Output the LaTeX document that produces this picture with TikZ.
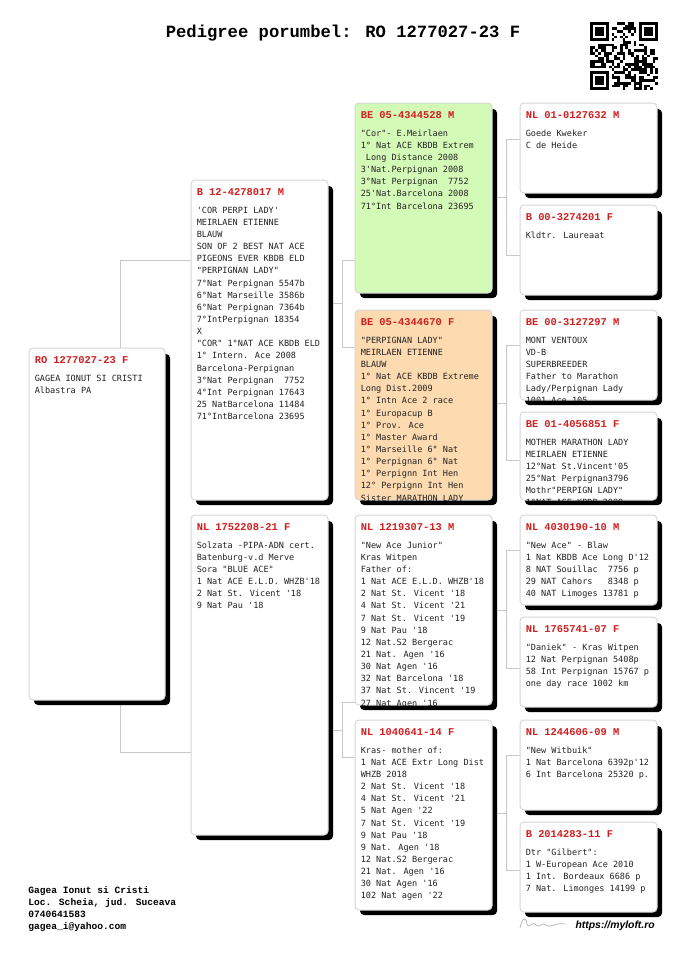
\documentclass[tikz,border=0pt]{standalone}
\usepackage{fontspec}
\newfontfamily\courf{Liberation Mono}
\newfontfamily\bodyf{DejaVu Sans Mono}
\newfontfamily\urlf{Liberation Sans}
\usetikzlibrary{calc}
\pgfdeclarelayer{background}
\pgfsetlayers{background,main}
\definecolor{hdrred}{RGB}{210,30,30}
\definecolor{boxline}{RGB}{215,215,215}
\definecolor{conn}{RGB}{200,200,200}
\definecolor{greenfill}{RGB}{212,250,184}
\definecolor{orangefill}{RGB}{253,218,176}
\definecolor{bodytext}{RGB}{35,35,35}
\tikzset{
 pedbox/.style={draw=boxline, line width=0.75pt, rounded corners=3pt, inner sep=0pt, outer sep=0pt, anchor=north west},
 shadowbox/.style={fill=black, rounded corners=3pt},
 hdrtext/.style={font=\courf\bfseries\fontsize{7.8pt}{9pt}\selectfont, text=hdrred, anchor=base west, inner sep=0pt},
 bodytxt/.style={font=\bodyf\fontsize{6.4pt}{9.1pt}\selectfont, text=bodytext, anchor=north west, inner sep=0pt, align=left},
 connector/.style={draw=conn, line width=0.75pt},
 titletext/.style={font=\courf\bfseries\fontsize{12.9pt}{14pt}\selectfont, anchor=base, inner sep=0pt},
 foottext/.style={font=\courf\bfseries\fontsize{7.2pt}{9pt}\selectfont, anchor=north west, inner sep=0pt, align=left},
 urltext/.style={font=\urlf\bfseries\itshape\fontsize{7.8pt}{9pt}\selectfont, anchor=base east, inner sep=0pt},
}
% #1 name, #2 x, #3 y, #4 w, #5 h, #6 fill, #7 header, #8 body
\newcommand\pedbox[8]{%
  \fill[shadowbox] (#2+5,#3+6) rectangle (#2+#4+5,#3+#5+5);
  \node[pedbox, fill=#6, minimum width=#4*0.75pt, minimum height=#5*0.75pt] (#1) at (#2,#3) {};
  \begin{scope}
    \clip (#1.north west) rectangle (#1.south east);
    \node[hdrtext] (#1-h) at ($(#1.north west)+(5.5,15)$) {#7};
    \node[bodytxt] (#1-b) at ($(#1.north west)+(5.5,26)$) {\rule{0pt}{5.25pt}#8};
  \end{scope}
}
\begin{document}
\begin{tikzpicture}[x=0.75pt,y=-0.75pt]
\begin{pgfonlayer}{background}
\fill[white] (0,0) rectangle (685,968);
\end{pgfonlayer}
\useasboundingbox (0,0) rectangle (685,968);

\node[titletext] (title) at (343,37) {Pedigree porumbel: RO 1277027-23 F};

% QR code
\begin{scope}[shift={(590,22)}]
  \pgfmathsetseed{4711}
  \foreach \i in {0,...,24}{
    \foreach \j in {0,...,24}{
      \pgfmathrandominteger{\qrr}{0}{1}
      \pgfmathtruncatemacro\qok{((\i<8 && \j<8) || (\i>16 && \j<8) || (\i<8 && \j>16)) ? 0 : 1}
      \ifnum\qok=1 \ifnum\qrr=1 \fill[black] (\i*2.72,\j*2.72) rectangle ++(2.72,2.72); \fi\fi
    }
  }
  \foreach \fx/\fy in {0/0,18/0,0/18}{
    \fill[black] (\fx*2.72,\fy*2.72) rectangle ++(7*2.72,7*2.72);
    \fill[white] (\fx*2.72+2.72,\fy*2.72+2.72) rectangle ++(5*2.72,5*2.72);
    \fill[black] (\fx*2.72+2*2.72,\fy*2.72+2*2.72) rectangle ++(3*2.72,3*2.72);
  }
\end{scope}

% generation 0
\pedbox{root}{29}{348}{136}{352}{white}{RO 1277027-23 F}{GAGEA IONUT SI CRISTI\\Albastra PA}

% generation 1
\pedbox{b1}{191}{180}{137}{320}{white}{B 12-4278017 M}{'COR PERPI LADY'\\MEIRLAEN ETIENNE\\BLAUW\\SON OF 2 BEST NAT ACE\\PIGEONS EVER KBDB ELD\\"PERPIGNAN LADY"\\7°Nat Perpignan 5547b\\6°Nat Marseille 3586b\\6°Nat Perpignan 7364b\\7°IntPerpignan 18354\\X\\"COR" 1°NAT ACE KBDB ELD\\1° Intern. Ace 2008\\Barcelona-Perpignan\\3°Nat Perpignan~ 7752\\4°Int Perpignan 17643\\25 NatBarcelona 11484\\71°IntBarcelona 23695}
\pedbox{b2}{191}{515}{137}{320}{white}{NL 1752208-21 F}{Solzata -PIPA-ADN cert.\\Batenburg-v.d Merve\\Sora "BLUE ACE"\\1 Nat ACE E.L.D. WHZB'18\\2 Nat St. Vicent '18\\9 Nat Pau '18}

% generation 2
\pedbox{g1}{355}{103}{137}{190}{greenfill}{BE 05-4344528 M}{"Cor"- E.Meirlaen\\1° Nat ACE KBDB Extrem\\~Long Distance 2008\\3'Nat.Perpignan 2008\\3°Nat Perpignan~ 7752\\25'Nat.Barcelona 2008\\71°Int Barcelona 23695}
\pedbox{g2}{355}{310}{137}{190}{orangefill}{BE 05-4344670 F}{"PERPIGNAN LADY"\\MEIRLAEN ETIENNE\\BLAUW\\1° Nat ACE KBDB Extreme\\Long Dist.2009\\1° Intn Ace 2 race\\1° Europacup B\\1° Prov. Ace\\1° Master Award\\1° Marseille 6° Nat\\1° Perpignan 6° Nat\\1° Perpignn Int Hen\\12° Perpignn Int Hen\\Sister MARATHON LADY}
\pedbox{g3}{355}{515}{137}{190}{white}{NL 1219307-13 M}{"New Ace Junior"\\Kras Witpen\\Father of:\\1 Nat ACE E.L.D. WHZB'18\\2 Nat St. Vicent '18\\4 Nat St. Vicent '21\\7 Nat St. Vicent '19\\9 Nat Pau '18\\12 Nat.S2 Bergerac\\21 Nat. Agen '16\\30 Nat Agen '16\\32 Nat Barcelona '18\\37 Nat St. Vincent '19\\27 Nat Agen '16}
\pedbox{g4}{355}{720}{137}{190}{white}{NL 1040641-14 F}{Kras- mother of:\\1 Nat ACE Extr Long Dist\\WHZB 2018\\2 Nat St. Vicent '18\\4 Nat St. Vicent '21\\5 Nat Agen '22\\7 Nat St. Vicent '19\\9 Nat Pau '18\\9 Nat. Agen '18\\12 Nat.S2 Bergerac\\21 Nat. Agen '16\\30 Nat Agen '16\\102 Nat agen '22}

% generation 3
\pedbox{h1}{520}{103}{137}{90}{white}{NL 01-0127632 M}{Goede Kweker\\C de Heide}
\pedbox{h2}{520}{205}{137}{90}{white}{B 00-3274201 F}{Kldtr. Laureaat}
\pedbox{h3}{520}{310}{137}{90}{white}{BE 00-3127297 M}{MONT VENTOUX\\VD-B\\SUPERBREEDER\\Father to Marathon\\Lady/Perpignan Lady\\1001 Ace 105}
\pedbox{h4}{520}{412}{137}{88}{white}{BE 01-4056851 F}{MOTHER MARATHON LADY\\MEIRLAEN ETIENNE\\12°Nat St.Vincent'05\\25°Nat Perpignan3796\\Mothr"PERPIGN LADY"\\1°NAT ACE KBDB 2009}
\pedbox{h5}{520}{515}{137}{90}{white}{NL 4030190-10 M}{"New Ace" - Blaw\\1 Nat KBDB Ace Long D'12\\8 NAT Souillac~ 7756 p\\29 NAT Cahors~~ 8348 p\\40 NAT Limoges 13781 p}
\pedbox{h6}{520}{617}{137}{90}{white}{NL 1765741-07 F}{"Daniek" - Kras Witpen\\12 Nat Perpignan 5408p\\58 Int Perpignan 15767 p\\one day race 1002 km}
\pedbox{h7}{520}{720}{137}{90}{white}{NL 1244606-09 M}{"New Witbuik"\\1 Nat Barcelona 6392p'12\\6 Int Barcelona 25320 p.}
\pedbox{h8}{520}{822}{137}{90}{white}{B 2014283-11 F}{Dtr "Gilbert":\\1 W-European Ace 2010\\1 Int. Bordeaux 6686 p\\7 Nat. Limonges 14199 p}

% connectors
\begin{pgfonlayer}{background}
\draw[connector] ($(root.north)+(23,0)$) |- ($(b1.north west)+(0,80)$);
\draw[connector] ($(root.south)+(23,0)$) |- ($(b2.north west)+(0,237)$);
\draw[connector] ($(b1.north east)+(0,123)$) -- ++(14,0);
\draw[connector] ($(g1.north west)+(0,157)$) -- ++(-13,0) |- ($(g2.north west)+(0,37)$);
\draw[connector] ($(b2.north east)+(0,215)$) -- ++(14,0);
\draw[connector] ($(g3.north west)+(0,187)$) -- ++(-13,0) |- ($(g4.north west)+(0,37)$);
\draw[connector] ($(g1.north east)+(0,94)$) -- ++(14,0);
\draw[connector] ($(h1.north west)+(0,36)$) -- ++(-14,0) |- ($(h2.north west)+(0,50)$);
\draw[connector] ($(g2.north east)+(0,93)$) -- ++(14,0);
\draw[connector] ($(h3.north west)+(0,35)$) -- ++(-14,0) |- ($(h4.north west)+(0,48)$);
\draw[connector] ($(g3.north east)+(0,95)$) -- ++(14,0);
\draw[connector] ($(h5.north west)+(0,35)$) -- ++(-14,0) |- ($(h6.north west)+(0,51)$);
\draw[connector] ($(g4.north east)+(0,93)$) -- ++(14,0);
\draw[connector] ($(h7.north west)+(0,35)$) -- ++(-14,0) |- ($(h8.north west)+(0,48)$);
\end{pgfonlayer}

% footer
\node[foottext] (footer) at (28,886) {\rule{0pt}{5.25pt}Gagea Ionut si Cristi\\Loc. Scheia, jud. Suceava\\0740641583\\gagea\_i@yahoo.com};
\draw[gray!60, line width=0.5pt] (520,928) .. controls (522,918) and (526,916) .. (527,924) .. controls (529,930) and (533,920) .. (536,925) .. controls (539,929) and (543,921) .. (546,925) .. controls (550,929) and (556,922) .. (565,924);
\node[urltext] (url) at (655,928) {https://myloft.ro};
\end{tikzpicture}
\end{document}
